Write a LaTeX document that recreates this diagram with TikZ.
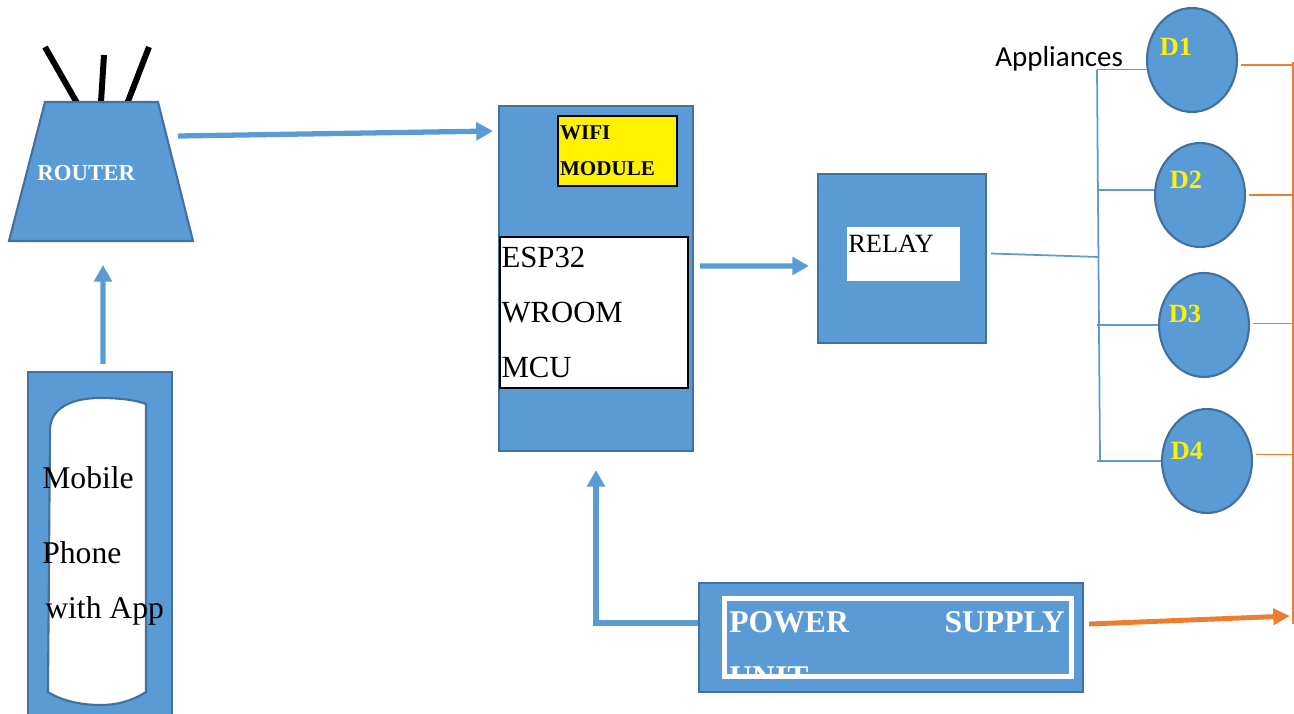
\documentclass[tikz,border=0pt]{standalone}
\usepackage{fontspec}
\setmainfont{Liberation Serif}
\newfontfamily\applfont{Carlito}
\usetikzlibrary{arrows.meta, calc, positioning, shapes.geometric}

\definecolor{blkblue}{HTML}{5B9BD5}
\definecolor{blkedge}{HTML}{41719C}
\definecolor{wireorange}{HTML}{ED7D31}

\tikzset{
    body/.style={draw=blkedge, fill=blkblue, line width=1.2pt},
    blk/.style={body, rectangle, inner sep=0pt},
    whitebox/.style={rectangle, draw=black, fill=white, line width=0.8pt},
    bluearrow/.style={draw=blkblue, line width=3pt, -{Triangle[length=9.5pt,width=10pt]}},
    orangearrow/.style={draw=wireorange, line width=2.8pt, -{Triangle[length=9.5pt,width=9pt]}},
    bluewire/.style={draw=blkblue, line width=1pt},
    orangewire/.style={draw=wireorange, line width=1pt},
    antenna/.style={draw=black, line width=3.4pt},
    device/.style={ellipse, body, inner sep=0pt, minimum width=1.8cm, minimum height=2.08cm},
    devlabel/.style={text=yellow, font=\bfseries\fontsize{15}{15}\selectfont, inner sep=0pt},
    txt/.style={anchor=base west, inner sep=0pt}
}

\begin{document}
\begin{tikzpicture}[x=0.02cm, y=-0.02cm]
    \clip (0,0) rectangle (1294,713);
    % router
    \draw[antenna] (45,47) -- (77,103);
    \draw[antenna] (104,55) -- (101,102);
    \draw[antenna] (149,47) -- (127,104);
    \draw[body] (45,102) -- (158,102) -- (193,241) -- (9,241) -- cycle;
    \coordinate (routerbase) at (101,241);
    \coordinate (routerport) at (178,136);
    \node[txt, text=white, font=\bfseries\fontsize{13}{13}\selectfont] (routertxt) at (37,180) {ROUTER};

    % mobile phone
    \node[blk, minimum width=2.88cm, minimum height=7cm] (phone) at (100,547) {};
    \draw[draw=blkedge, fill=white, line width=1.2pt] (50,430) .. controls (50,408) and (72,398) .. (100,398)
        .. controls (120,398) and (135,400) .. (146,404) -- (146,692)
        .. controls (130,702) and (115,705) .. (100,705) .. controls (80,705) and (60,700) .. (48,692) -- cycle;
    \node[txt, font=\fontsize{18}{18}\selectfont] (mobiletxt) at (42,488) {Mobile};
    \node[txt, font=\fontsize{18}{18}\selectfont] (phonetxt) at (42,563) {Phone};
    \node[txt, font=\fontsize{18}{18}\selectfont] (apptxt) at (45,618) {with App};

    % esp32 board
    \node[blk, minimum width=3.88cm, minimum height=6.9cm] (esp) at (596,278.5) {};
    \node[whitebox, fill=yellow, minimum width=2.38cm, minimum height=1.4cm, text width=2.3cm,
        inner xsep=0.04cm, inner ysep=0pt, align=left,
        font=\bfseries\fontsize{12}{20.4}\selectfont] (wifi) at (617.5,151) {WIFI\\MODULE};
    \node[whitebox, minimum width=3.76cm, minimum height=3.02cm, text width=3.7cm,
        inner xsep=0.03cm, inner ysep=0pt, align=left,
        font=\fontsize{17.5}{31.2}\selectfont] (mcu) at (594,312.5) {ESP32\\WROOM\\MCU};

    % relay
    \node[blk, minimum width=3.36cm, minimum height=3.38cm] (relay) at (902,258.5) {};
    \node[fill=white, inner sep=0pt, minimum width=2.26cm, minimum height=1.08cm] (relaywin) at (903.5,254) {};
    \node[txt, font=\fontsize{15}{15}\selectfont] (relaytxt) at (848,252) {RELAY};

    % power supply
    \node[blk, minimum width=7.68cm, minimum height=2.18cm] (power) at (891,637.5) {};
    \node[draw=white, line width=2.8pt, inner sep=0pt, minimum width=6.94cm, minimum height=1.56cm] (frame) at (898,637.5) {};
    \node[txt, text=white, font=\bfseries\fontsize{18}{18}\selectfont] (powertxt) at (729,632) {POWER};
    \node[txt, anchor=base east, text=white, font=\bfseries\fontsize{18}{18}\selectfont] (supplytxt) at (1065,632) {SUPPLY};
    \begin{scope}
        \clip (727,601) rectangle (1069,674);
        \node[txt, text=white, font=\bfseries\fontsize{18}{18}\selectfont] (unittxt) at (729,687) {UNIT};
    \end{scope}

    % appliances
    \node[txt, font=\applfont\fontsize{16.5}{16.5}\selectfont] (appltxt) at (995,67) {Appliances};
    \foreach \i/\x/\y/\lx/\ly in {1/1192/60/-16/13, 2/1200/195/-14/15, 3/1204/325/-19/11, 4/1207/461/-20/10}
        \node[device, label={[devlabel, xshift=\lx*0.02cm, yshift=\ly*0.02cm]center:D\i}] (d\i) at (\x,\y) {};

    % wiring
    \coordinate (bustop) at (1097,70);
    \coordinate (busmid) at (1099,257);
    \coordinate (busbot) at (1100,460);
    \coordinate (otop) at (1293,62);
    \coordinate (obot) at (1293,624);
    \coordinate (otip) at (1290,616);
    \draw[bluewire] (bustop) -- (busbot);
    \draw[bluewire] ([shift={(0.08cm,0.1cm)}]relay.east) -- (busmid);
    \foreach \i/\a in {1/192, 2/174, 3/180, 4/180}
        \draw[bluewire] (bustop |- d\i.\a) -- (d\i.\a);
    \foreach \i/\a in {1/354, 2/0, 3/2, 4/8}
        \draw[orangewire, shorten <=0.06cm] (d\i.\a) -- (d\i.\a -| otop);
    \draw[orangewire] (otop) -- (obot);

    % arrows
    \draw[bluearrow, shorten <=0.14cm, shorten >=0.48cm] ([xshift=0.06cm]phone.north) -- ([xshift=0.04cm]routerbase);
    \draw[bluearrow] (routerport) -- ([shift={(-0.1cm,2.95cm)}]esp.west);
    \draw[bluearrow] ([shift={(0.12cm,0.25cm)}]esp.east) -- ([shift={(-0.16cm,-0.15cm)}]relay.west);
    \draw[bluearrow, shorten >=0.36cm] ([yshift=0.29cm]power.west) -| (esp.south);
    \draw[orangearrow] ([shift={(0.1cm,0.27cm)}]power.east) -- (otip);
\end{tikzpicture}
\end{document}
